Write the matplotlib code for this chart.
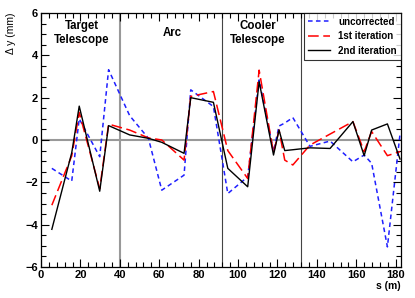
import matplotlib
matplotlib.use("Agg")
import matplotlib.pyplot as plt
from matplotlib.ticker import MultipleLocator

plt.rcParams['font.family'] = ['Liberation Sans', 'DejaVu Sans']

s_pos = [5.5, 15.6, 19.4, 29.8, 34.3, 45.0, 54.5, 61.3, 72.6, 76.0, 87.5,
         94.8, 104.9, 110.7, 118.0, 120.8, 123.7, 127.8, 136.5, 146.7,
         158.3, 164.0, 167.8, 175.8, 182.2]
uncorrected = [-1.34, -1.94, 1.0, -0.79, 3.32, 1.15, 0.08, -2.37, -1.66, 2.37, 1.58,
               -2.53, -1.74, 2.84, -0.55, 0.66, 0.8, 1.06, -0.3, -0.05,
               -1.03, -0.71, -1.1, -5.05, 0.28]
iter1 = [-3.08, -0.75, 1.3, -2.3, 0.75, 0.47, 0.1, 0.0, -0.95, 2.06, 2.29,
         -0.5, -1.82, 3.3, -0.6, 0.47, -0.95, -1.18, -0.24, 0.28,
         0.87, -0.55, 0.4, -0.74, -0.55]
iter2 = [-4.22, -0.6, 1.6, -2.42, 0.68, 0.24, 0.08, -0.11, -0.63, 2.0, 1.78,
         -1.34, -2.21, 2.76, -0.71, 0.47, -0.5, -0.46, -0.37, -0.4,
         0.87, -0.74, 0.47, 0.76, -0.9]
series_labels = ['uncorrected', '1st iteration', '2nd iteration']
sections = ['Target\nTelescope', 'Arc', 'Cooler\nTelescope']
section_x = [20.8, 66.5, 109.9]
boundaries = [40.0, 91.7, 131.8]

fig = plt.figure(figsize=(4.15, 2.98), dpi=100)
ax = fig.add_axes([41/415, 1-267/298, 360/415, 254/298])

ax.axhline(0, color='#999999', lw=1.5, zorder=1)
ax.axvline(boundaries[0], color='#999999', lw=1.5, zorder=1)
for b in boundaries[1:]:
    ax.axvline(b, color='#444444', lw=0.8, zorder=1)

ax.plot(s_pos, uncorrected, color='#1f1fff', lw=1.1, ls=(0, (3, 2.2)), label=series_labels[0], zorder=3)
ax.plot(s_pos, iter1, color='#ff0000', lw=1.1, ls=(0, (7, 3)), label=series_labels[1], zorder=4)
ax.plot(s_pos, iter2, color='black', lw=1.0, label=series_labels[2], zorder=5)

ax.set_xlim(0, 182.7)
ax.set_ylim(-6, 6)
ax.xaxis.set_major_locator(MultipleLocator(20))
ax.xaxis.set_minor_locator(MultipleLocator(4))
ax.yaxis.set_major_locator(MultipleLocator(2))
ax.yaxis.set_minor_locator(MultipleLocator(0.5))
ax.tick_params(which='both', direction='in', top=True, right=True, labelsize=8, width=0.8, pad=2)
ax.tick_params(which='major', length=6)
ax.tick_params(which='minor', length=3.5)
for lab in ax.get_xticklabels() + ax.get_yticklabels():
    lab.set_fontweight('bold')
for sp in ax.spines.values():
    sp.set_linewidth(0.9)

ax.set_xlabel('s (m)', loc='right', fontsize=7.5, fontweight='bold', labelpad=1)
ax.set_ylabel('Δ y (mm)', loc='top', fontsize=7.5, labelpad=7)

for t, x in zip(sections, section_x):
    ax.text(x, 5.05, t, ha='center', va='center', fontsize=8.3, fontweight='bold', linespacing=1.2)

leg = ax.legend(loc='upper right', bbox_to_anchor=(1.0, 1.0), borderaxespad=0,
                frameon=True, fancybox=False, edgecolor='black',
                handlelength=2.2, handletextpad=0.9, borderpad=0.4, labelspacing=0.45,
                prop={'weight': 'bold', 'size': 7})
leg.get_frame().set_linewidth(0.8)

fig.savefig('out.png', dpi=100)
